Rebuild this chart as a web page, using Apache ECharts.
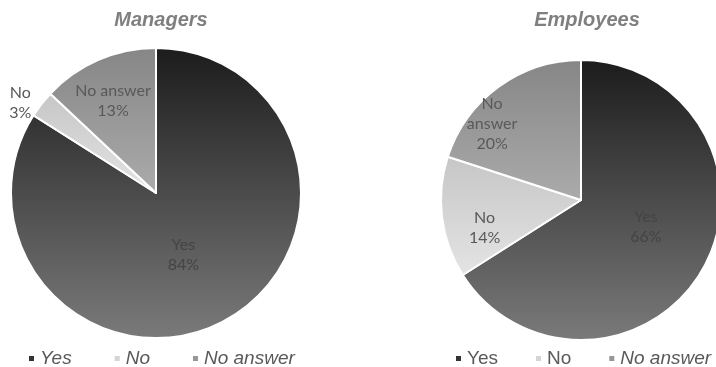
<!DOCTYPE html>
<html>
<head>
<meta charset="utf-8">
<script src="https://cdn.jsdelivr.net/npm/echarts@6/dist/echarts.min.js"></script>
<style>
  html, body { margin: 0; padding: 0; background: #fff; }
  #chart { width: 716px; height: 367px; }
</style>
</head>
<body>
<div id="chart"></div>
<script>
// data
const categories = ['Yes', 'No', 'No answer'];
const managers = [84, 3, 13];
const employees = [66, 14, 20];
const titles = ['Managers', 'Employees'];

// gradient colours per category (top, bottom)
const sliceColors = [
  ['#1c1c1c', '#7a7a7a'],
  ['#c6c6c6', '#e4e4e4'],
  ['#868686', '#ababab']
];
const legendColors = ['#333333', '#d4d4d4', '#979797'];

// label nudges from the default inside position
const leftOffsets = [[-9, -4], [-76, -44], [-13, -23]];
const rightOffsets = [[1, -8], [-24, 19], [-46, -17]];

function grad(c) {
  return new echarts.graphic.LinearGradient(0, 0, 0, 1, [
    { offset: 0, color: c[0] },
    { offset: 1, color: c[1] }
  ]);
}

function buildData(values, offsets, wrap) {
  return values.map((v, i) => ({
    name: categories[i],
    value: v,
    itemStyle: { color: grad(sliceColors[i]) },
    label: {
      offset: offsets[i],
      color: i === 0 ? '#444444' : '#595959',
      formatter: p => (wrap ? p.name.replace(' ', '\n') : p.name) + '\n' + p.value + '%'
    }
  }));
}

const chart = echarts.init(document.getElementById('chart'));

const seriesBase = {
  type: 'pie',
  startAngle: 90,
  clockwise: true,
  animation: false,
  itemStyle: { borderColor: '#fff', borderWidth: 2 },
  label: {
    position: 'inside',
    color: '#595959',
    fontFamily: 'Lato',
    fontSize: 16,
    lineHeight: 20,
    align: 'center'
  },
  labelLine: { show: false },
  emphasis: { disabled: true }
};

const legendBase = {
  orient: 'horizontal',
  top: 344,
  width: 400,
  itemWidth: 7,
  itemHeight: 7,
  itemGap: 41,
  icon: 'rect',
  selectedMode: false,
  data: categories.map((c, i) => ({ name: c, itemStyle: { color: legendColors[i] } }))
};

chart.setOption({
  color: legendColors,
  title: titles.map((t, i) => ({
    text: t,
    left: i === 0 ? 156 : 582,
    textAlign: 'center',
    top: 5,
    textStyle: {
      color: '#7f7f7f',
      fontFamily: 'Liberation Sans',
      fontSize: 20,
      fontWeight: 'bold',
      fontStyle: 'italic'
    }
  })),
  legend: [
    Object.assign({}, legendBase, {
      left: 22,
      textStyle: { color: '#595959', fontFamily: 'Liberation Sans', fontSize: 19, fontStyle: 'italic' }
    }),
    Object.assign({}, legendBase, {
      left: 449,
      itemGap: 36,
      textStyle: {
        color: '#595959', fontFamily: 'Liberation Sans', fontSize: 19,
        rich: {
          n: { fontFamily: 'Liberation Sans', fontSize: 19, color: '#595959' },
          i: { fontFamily: 'Liberation Sans', fontSize: 19, color: '#595959', fontStyle: 'italic' }
        }
      },
      formatter: name => name === 'No answer' ? '{i|' + name + '}' : '{n|' + name + '}'
    })
  ],
  series: [
    Object.assign({}, seriesBase, {
      name: titles[0],
      center: [156, 193],
      radius: 145,
      data: buildData(managers, leftOffsets, false)
    }),
    Object.assign({}, seriesBase, {
      name: titles[1],
      center: [581, 200],
      radius: 140,
      data: buildData(employees, rightOffsets, true)
    })
  ]
});
</script>
</body>
</html>
